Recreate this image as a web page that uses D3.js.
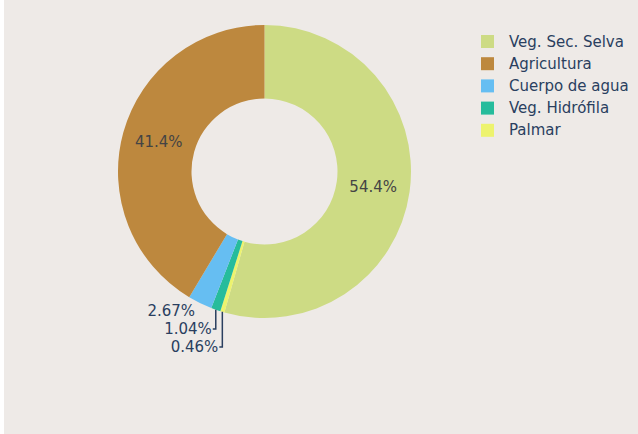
<!DOCTYPE html>
<html>
<head>
<meta charset="utf-8">
<script src="https://cdn.jsdelivr.net/npm/d3@7"></script>
<style>
  body { margin: 0; background: #ffffff; }
  svg { display: block; font-family: "DejaVu Sans", Verdana, sans-serif; }
</style>
</head>
<body>
<svg id="chart" width="638" height="434"></svg>
<script>
// slice order as drawn clockwise from 12 o'clock
const categories = ["Veg. Sec. Selva", "Palmar", "Veg. Hidrófila", "Cuerpo de agua", "Agricultura"];
const values = [54.4, 0.46, 1.04, 2.67, 41.4];
const labels = ["54.4%", "0.46%", "1.04%", "2.67%", "41.4%"];
const colors = ["#cddb84", "#edf36e", "#26bc9c", "#66bef2", "#bd883e"];
const legendOrder = ["Veg. Sec. Selva", "Agricultura", "Cuerpo de agua", "Veg. Hidrófila", "Palmar"];

const width = 638, height = 434;
const cx = 264.5, cy = 171.5;
const outerR = 146.5, innerR = 73;

const svg = d3.select('#chart');

svg.append('rect')
    .attr('x', 4).attr('y', 0)
    .attr('width', width - 4).attr('height', height)
    .style('fill', '#eeeae7');

const data = categories.map((c, i) => ({name: c, value: values[i], label: labels[i], color: colors[i]}));

const pie = d3.pie()
    .sort(null)
    .value(d => d.value);

const arc = d3.arc()
    .innerRadius(innerR)
    .outerRadius(outerR);

const arcs = pie(data);

const g = svg.append('g')
    .attr('transform', `translate(${cx}, ${cy})`);

g.selectAll('path.slice')
    .data(arcs)
    .join('path')
        .classed('slice', true)
        .attr('d', arc)
        .style('fill', d => d.data.color);

// inside labels for the big slices
const inside = arcs.filter(d => d.data.value > 10);
g.selectAll('text.inside')
    .data(inside)
    .join('text')
        .classed('inside', true)
        .attr('x', d => arc.centroid(d)[0])
        .attr('y', d => arc.centroid(d)[1])
        .attr('text-anchor', 'middle')
        .attr('dominant-baseline', 'central')
        .style('font-size', '15px')
        .style('fill', '#444444')
        .text(d => d.data.label);

// outside labels for the small slices, stacked downward
const outside = arcs.filter(d => d.data.value <= 10)
    .sort((a, b) => b.data.value - a.data.value);

const lineH = 18;
const firstMid = (outside[0].startAngle + outside[0].endAngle) / 2;
const baseY = -Math.cos(firstMid) * outerR + 8;

outside.forEach((d, i) => {
    const mid = (d.startAngle + d.endAngle) / 2;
    const px = Math.sin(mid) * outerR;
    const py = -Math.cos(mid) * outerR;
    const ty = baseY + i * lineH;
    let tx = px - 5;
    if (i > 0) {
        tx = px - 4;
        g.append('path')
            .attr('d', `M${px},${py}V${ty}H${px - 3}`)
            .style('fill', 'none')
            .style('stroke', '#2a3f5f')
            .style('stroke-width', 1.5);
    }
    g.append('text')
        .attr('x', tx)
        .attr('y', ty)
        .attr('text-anchor', 'end')
        .attr('dominant-baseline', 'central')
        .style('font-size', '15px')
        .style('fill', '#2a3f5f')
        .text(d.data.label);
});

// legend
const legend = svg.append('g')
    .attr('transform', 'translate(481, 41.5)');

const item = legend.selectAll('g')
    .data(legendOrder)
    .join('g')
        .attr('transform', (d, i) => `translate(0, ${i * 22.2})`);

item.append('rect')
    .attr('x', 0).attr('y', -6.5)
    .attr('width', 13).attr('height', 13)
    .style('fill', d => colors[categories.indexOf(d)]);

item.append('text')
    .attr('x', 28)
    .attr('y', 0)
    .attr('dominant-baseline', 'central')
    .style('font-size', '15px')
    .style('fill', '#2a3f5f')
    .text(d => d);
</script>
</body>
</html>
